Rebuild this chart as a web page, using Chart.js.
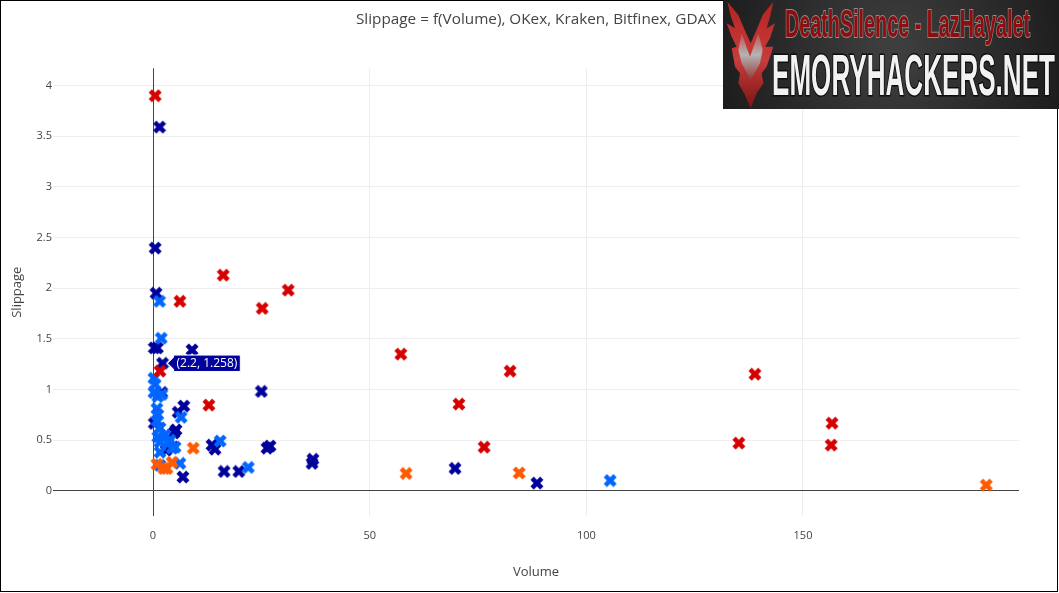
<!DOCTYPE html>
<html>
<head>
<meta charset="utf-8">
<script src="https://cdn.jsdelivr.net/npm/chart.js@4/dist/chart.umd.js"></script>
<style>
html,body{margin:0;padding:0;background:#fff;}
#frame{position:relative;width:1059px;height:593px;overflow:hidden;}
#frame canvas{position:absolute;left:0;top:0;}
#edge{position:absolute;left:0;top:0;width:1056px;height:590px;border:1px solid #000;}
</style>
</head>
<body>
<div id="frame">
<div id="edge"></div>
<canvas id="chart" width="1059" height="593"></canvas>
</div>
<script>
// Slippage as a function of order volume, one series per exchange.
const xTicks = [0, 50, 100, 150];
const yTicks = [0, 0.5, 1, 1.5, 2, 2.5, 3, 3.5, 4];

const okexX = [1.5,0.5,0.7,0.3,1.0,9.0,2.2,25.0,2.0,7.1,5.8,0.3,5.3,4.8,4.6,13.6,14.3,16.4,19.8,26.3,27.0,36.9,36.7,69.7,88.6,6.9,3.0];
const okexY = [3.59,2.395,1.95,1.41,1.41,1.39,1.258,0.98,0.97,0.835,0.775,0.665,0.6,0.57,0.43,0.45,0.41,0.19,0.19,0.42,0.44,0.31,0.27,0.22,0.075,0.135,0.4];

const krakenX = [0.5,16.2,31.2,6.2,25.2,57.2,82.4,138.9,1.6,12.9,70.6,156.7,135.2,156.5,76.4];
const krakenY = [3.9,2.128,1.98,1.87,1.8,1.348,1.18,1.15,1.18,0.845,0.855,0.667,0.47,0.45,0.43];

const bitfinexX = [1.5,1.9,0.2,0.5,0.2,1.1,2.0,0.9,1.1,0.9,1.6,1.1,2.8,1.6,3.9,4.4,1.6,1.6,6.5,15.5,22.0,105.5,6.2,5.1,3.5];
const bitfinexY = [1.87,1.505,1.11,1.05,0.97,0.93,0.95,0.81,0.75,0.69,0.62,0.53,0.55,0.48,0.5,0.42,0.38,0.25,0.725,0.49,0.23,0.1,0.27,0.43,0.47];

const gdaxX = [0.9,3.2,4.4,2.5,9.3,58.4,84.5,192.3];
const gdaxY = [0.26,0.22,0.28,0.22,0.42,0.17,0.175,0.055];

const toPoints = (xs, ys) => xs.map((x, i) => ({x, y: ys[i]}));

// Thick "x" marker, prerendered so each series can use it as a point style.
function xMarker(color) {
  const c = document.createElement('canvas');
  c.width = c.height = 14;
  const g = c.getContext('2d');
  g.translate(7, 7);
  g.fillStyle = color;
  const r = 6.5, t = 3.3;
  g.beginPath();
  g.moveTo(0, -t); g.lineTo(r - t, -r); g.lineTo(r, -r + t);
  g.lineTo(t, 0); g.lineTo(r, r - t); g.lineTo(r - t, r);
  g.lineTo(0, t); g.lineTo(-r + t, r); g.lineTo(-r, r - t);
  g.lineTo(-t, 0); g.lineTo(-r, -r + t); g.lineTo(-r + t, -r);
  g.closePath();
  g.fill();
  return c;
}

// Both zero lines sit above the light grid and below the markers.
const zeroLines = {
  id: 'zeroLines',
  beforeDatasetsDraw(chart) {
    const g = chart.ctx, a = chart.chartArea;
    const px = Math.floor(chart.scales.x.getPixelForValue(0)) + 0.5;
    const py = Math.floor(chart.scales.y.getPixelForValue(0)) + 0.5;
    g.save();
    g.strokeStyle = '#444';
    g.lineWidth = 1;
    g.beginPath();
    g.moveTo(px, a.top); g.lineTo(px, a.bottom);
    g.moveTo(a.left, py); g.lineTo(a.right, py);
    g.stroke();
    g.restore();
  }
};

// Site banner in the upper right corner, drawn over the plot.
const banner = {
  id: 'banner',
  afterDraw(chart) {
    const g = chart.ctx, L = 723, T = 0, W = 336, H = 109;
    g.save();
    const bg = g.createRadialGradient(L + 170, 50, 10, L + 170, 50, 210);
    bg.addColorStop(0, '#3e3e3e');
    bg.addColorStop(1, '#161616');
    g.fillStyle = bg;
    g.fillRect(L, T, W, H);

    // Emblem: red blades with a silver M inside
    const red = g.createLinearGradient(0, 0, 0, 109);
    red.addColorStop(0, '#b52222');
    red.addColorStop(0.55, '#c93c3c');
    red.addColorStop(1, '#7a1313');
    const grey = g.createLinearGradient(0, 30, 0, 85);
    grey.addColorStop(0, '#c04040');
    grey.addColorStop(0.45, '#b4b4b4');
    grey.addColorStop(1, '#8c2020');
    const poly = (pts, fill) => {
      g.beginPath();
      pts.forEach((p, i) => {
        const x = 720 + p[0] / 3, y = p[1] / 3;
        i ? g.lineTo(x, y) : g.moveTo(x, y);
      });
      g.closePath();
      g.fillStyle = fill;
      g.fill();
    };
    poly([[22,5],[55,45],[72,85],[92,130],[112,85],[128,45],[160,5],[150,50],[140,85],[165,70],[150,115],[135,140],[160,140],[140,200],[125,220],[130,250],[110,280],[92,325],[75,285],[55,250],[60,220],[45,200],[35,145],[50,140],[35,110],[20,70],[45,85],[33,50]], red);
    poly([[65,100],[90,170],[115,100],[128,150],[120,190],[92,240],[65,190],[55,150]], grey);

    // Red headline, squeezed to its measured width
    g.textBaseline = 'alphabetic';
    g.textAlign = 'left';
    g.font = 'bold 38px "Liberation Sans"';
    const head = 'DeathSilence - LazHayalet';
    const hs = 245 / g.measureText(head).width;
    g.save();
    g.translate(785, 37);
    g.scale(hs, 1);
    g.lineWidth = 2;
    g.strokeStyle = '#8d8d8d';
    g.strokeText(head, 0, 0);
    g.fillStyle = '#8f0d0d';
    g.fillText(head, 0, 0);
    g.restore();

    // Metallic site name
    g.font = 'bold 57px "Liberation Sans"';
    const name = 'EMORYHACKERS.NET';
    const ns = 283 / g.measureText(name).width;
    const metal = g.createLinearGradient(0, 55, 0, 95);
    metal.addColorStop(0, '#f2f2f2');
    metal.addColorStop(0.5, '#7e7e7e');
    metal.addColorStop(0.62, '#d6d6d6');
    metal.addColorStop(1, '#9a9a9a');
    g.save();
    g.translate(772, 95);
    g.scale(ns, 1);
    g.lineWidth = 3;
    g.strokeStyle = '#0c0c0c';
    g.strokeText(name, 0, 0);
    g.fillStyle = metal;
    g.fillText(name, 0, 0);
    g.restore();
    g.restore();
  }
};

const labelFont = {family: '"Open Sans"', size: 13};
const tickFont = {family: '"Open Sans"', size: 11};
const gridColor = c => c.tick && c.tick.value === 0 ? 'rgba(0,0,0,0)' : '#eee';

const chart = new Chart(document.getElementById('chart'), {
  type: 'scatter',
  data: {
    datasets: [
      {label: 'GDAX', data: toPoints(gdaxX, gdaxY), pointStyle: xMarker('#ff5a00')},
      {label: 'Kraken', data: toPoints(krakenX, krakenY), pointStyle: xMarker('#d60000')},
      {label: 'Bitfinex', data: toPoints(bitfinexX, bitfinexY), pointStyle: xMarker('#0066ff')},
      {label: 'OKex', data: toPoints(okexX, okexY), pointStyle: xMarker('#00009c')}
    ]
  },
  options: {
    responsive: false,
    animation: false,
    events: [],
    layout: {padding: {left: 0, right: 40, top: 0, bottom: 13}},
    plugins: {
      legend: {display: false},
      title: {
        display: true,
        text: 'Slippage = f(Volume), OKex, Kraken, Bitfinex, GDAX',
        fullSize: false,
        color: '#444',
        font: {family: '"Open Sans"', size: 15.3, weight: 'normal'},
        padding: {top: 10, bottom: 40}
      },
      tooltip: {
        enabled: true,
        backgroundColor: '#00009c',
        borderColor: '#fff',
        borderWidth: 1,
        cornerRadius: 0,
        caretSize: 6,
        caretPadding: 5,
        xAlign: 'left',
        yAlign: 'center',
        displayColors: false,
        padding: {left: 3, right: 3, top: 1, bottom: 1},
        bodyFont: {family: '"Open Sans"', size: 12},
        bodyColor: '#fff',
        callbacks: {
          title: () => '',
          label: c => '(' + c.parsed.x + ', ' + c.parsed.y + ')'
        }
      }
    },
    scales: {
      x: {
        type: 'linear',
        min: -23.08,
        max: 199.85,
        afterBuildTicks: a => { a.ticks = xTicks.map(value => ({value})); },
        afterFit: a => { a.height = 64; },
        grid: {drawTicks: false, color: gridColor},
        border: {display: false},
        ticks: {color: '#444', font: tickFont, padding: 13, maxRotation: 0, autoSkip: false},
        title: {display: true, text: 'Volume', color: '#444', font: labelFont, padding: {top: 20, bottom: 0}}
      },
      y: {
        type: 'linear',
        min: -0.25,
        max: 4.17,
        afterBuildTicks: a => { a.ticks = yTicks.map(value => ({value})); },
        afterFit: a => { a.width = 53; },
        grid: {drawTicks: false, color: gridColor},
        border: {display: false},
        ticks: {color: '#444', font: tickFont, padding: 1, autoSkip: false, callback: v => String(v)},
        title: {display: true, text: 'Slippage', color: '#444', font: labelFont, padding: {top: 9, bottom: 0}}
      }
    }
  },
  plugins: [zeroLines, banner]
});

// Keep the readout for the 2.2 volume order pinned open.
const okexIndex = chart.data.datasets.findIndex(d => d.label === 'OKex');
const pinned = okexX.indexOf(2.2);
const pinnedEl = chart.getDatasetMeta(okexIndex).data[pinned];
chart.tooltip.setActiveElements([{datasetIndex: okexIndex, index: pinned}], {x: pinnedEl.x, y: pinnedEl.y});
chart.update();
</script>
</body>
</html>
